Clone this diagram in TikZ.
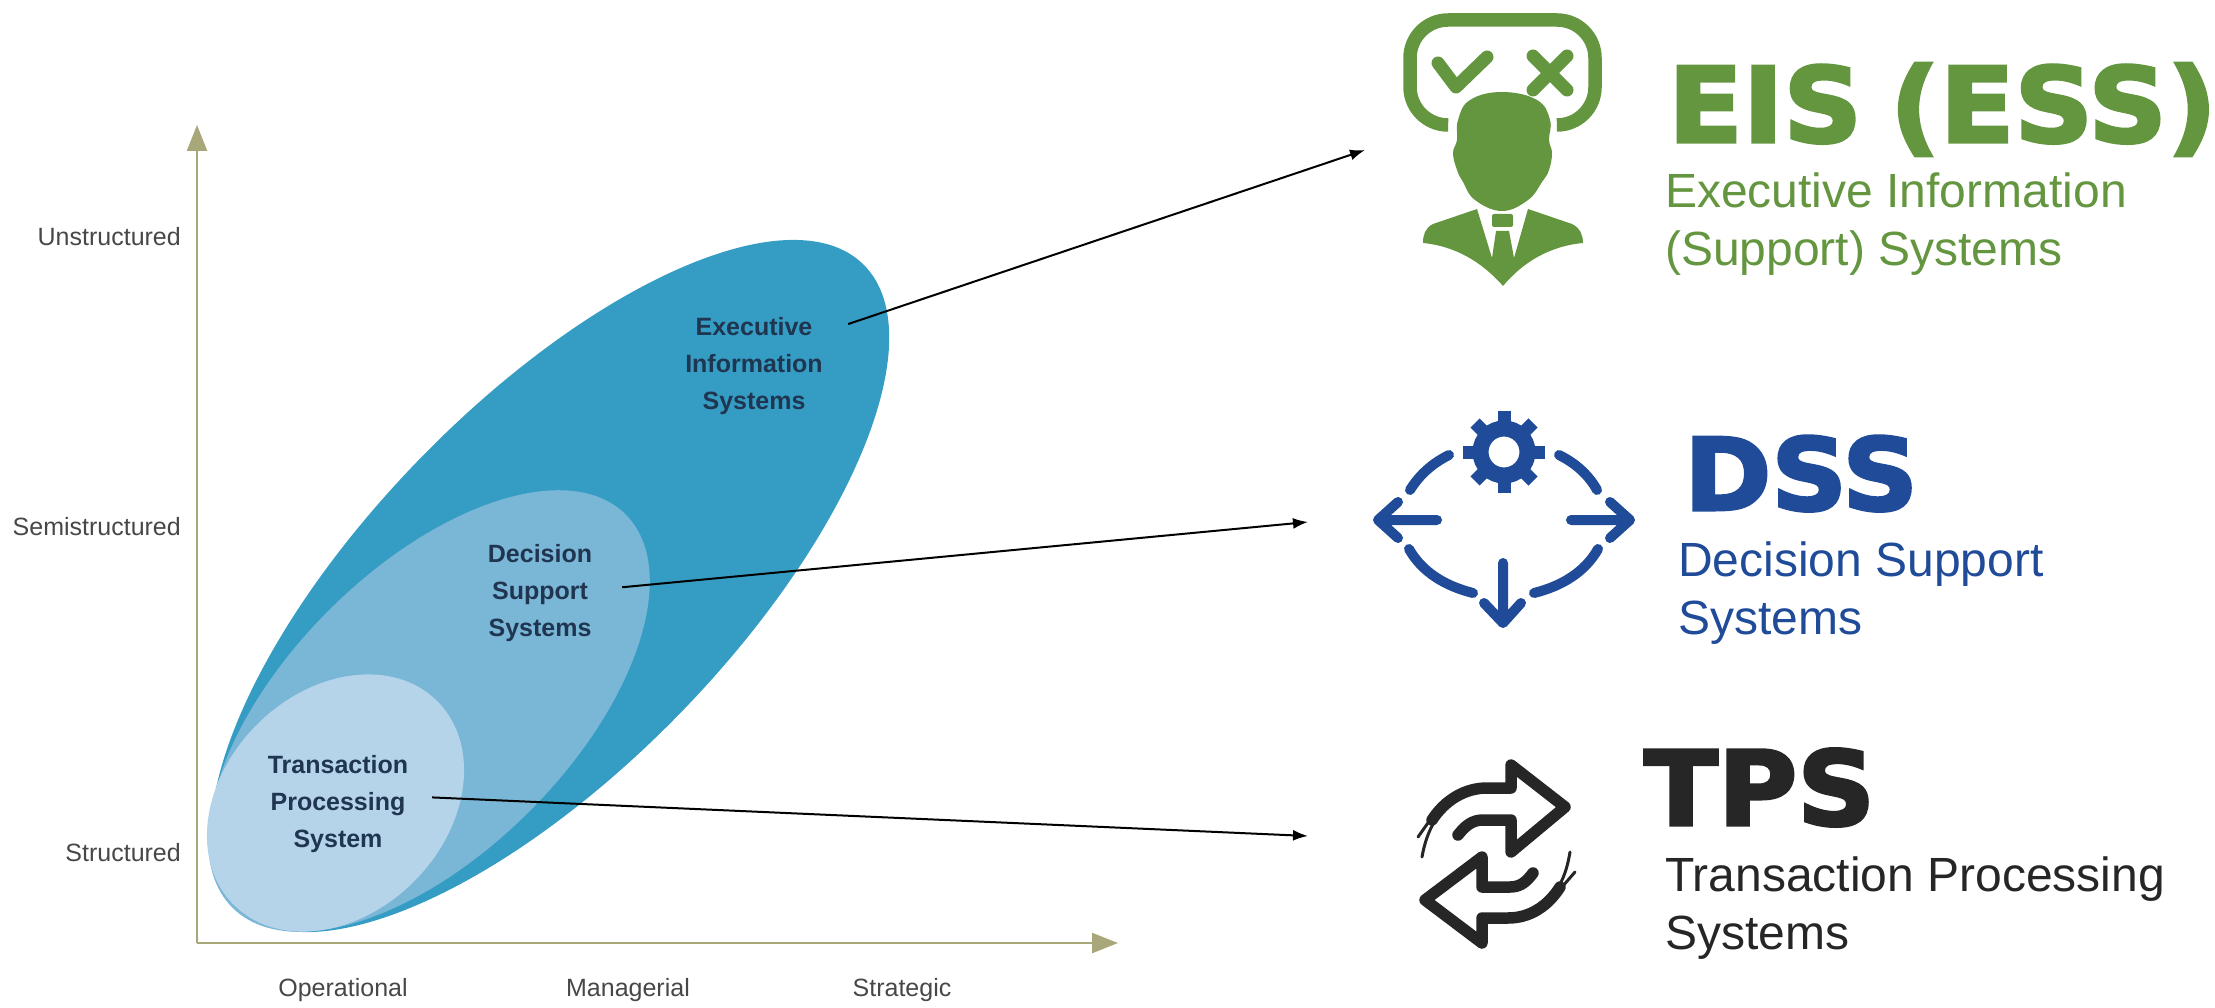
\documentclass[tikz,border=0pt]{standalone}
\usepackage{fontspec}
\usepackage{xcolor}
\setmainfont{Liberation Sans}
\newfontfamily\titlefont[UprightFont=* Bold,FakeBold=3,FakeStretch=1.05]{DejaVu Sans}
\usetikzlibrary{arrows.meta}

\definecolor{axisolive}{HTML}{A8A77A}
\definecolor{eisblue}{HTML}{359DC4}
\definecolor{dssblue}{HTML}{7AB6D6}
\definecolor{tpsblue}{HTML}{B5D4EA}
\definecolor{labelnavy}{HTML}{1F3550}
\definecolor{eisgreen}{HTML}{64963F}
\definecolor{dssnavy}{HTML}{1F4B99}
\definecolor{tpsdark}{HTML}{262626}

\tikzset{
    axisline/.style={line width=2.5pt,axisolive,-{Triangle[length=26pt,width=20pt]}},
    axislabel/.style={font=\fontsize{25}{30}\selectfont,text=black!72,inner sep=0pt},
    bloblabel/.style={font=\fontsize{25}{36.8}\selectfont\bfseries,text=labelnavy,align=center,inner sep=0pt},
    linkarrow/.style={line width=2pt,black,-{Latex[length=15pt,width=11pt]}},
    bigtitle/.style={anchor=base west,inner sep=0pt},
    subtitle/.style={anchor=north west,inner sep=0pt,align=left,font=\fontsize{48}{57.5}\selectfont},
    iconpen/.style={line cap=round,line join=round},
}

\begin{document}
\begin{tikzpicture}[x=1pt,y=-1pt]
\useasboundingbox (0,0) rectangle (2215,1008);

% Axes
\coordinate (origin) at (197,943);
\coordinate (ytip) at (197,125);
\coordinate (xtip) at (1118,943);
\draw[axisline] (origin) -- (ytip);
\draw[axisline] (origin) -- (xtip);

% Axis labels
\foreach \y/\ytext/\yname in {237/Unstructured/un, 527/Semistructured/semi, 853/Structured/st}
    \node[axislabel,anchor=east] (\yname) at (181,\y) {\ytext};
\foreach \x/\xtext/\xname in {343/Operational/op, 628/Managerial/man, 902/Strategic/str}
    \node[axislabel] (\xname) at (\x,990) {\xtext};

% Nested blobs
\fill[eisblue] (550,586) ellipse [x radius=449,y radius=182,rotate=45.8];
\fill[dssblue] (429,711) ellipse [x radius=278,y radius=142,rotate=45];
\fill[tpsblue] (335.5,803) ellipse [x radius=144,y radius=111,rotate=45];

% Blob labels
\node[bloblabel,minimum width=188pt] (eislabel) at (754,366) {Executive\\Information\\Systems};
\node[bloblabel,minimum width=164pt] (dsslabel) at (540,593) {Decision\\Support\\Systems};
\node[bloblabel,minimum width=188pt] (tpslabel) at (338,804) {Transaction\\Processing\\System};

% Links to the icons
\coordinate (eisicon) at (1365,150);
\coordinate (dssicon) at (1308,522);
\coordinate (tpsicon) at (1308,836);
\draw[linkarrow] (eislabel.24.6) -- (eisicon);
\draw[linkarrow] (dsslabel.4.2) -- (dssicon);
\draw[linkarrow] (tpslabel.4.9) -- (tpsicon);

% EIS icon
\draw[eisgreen,line width=13.5pt,rounded corners=38pt] (1447,125) -- (1410,125) -- (1410,20) -- (1595,20) -- (1595,125) -- (1559,125);
\draw[eisgreen,iconpen,line width=13pt] (1438,63) -- (1456,87) -- (1487,57);
\draw[eisgreen,iconpen,line width=13pt] (1533,56) -- (1567,90) (1567,56) -- (1533,90);
\fill[eisgreen] plot[smooth cycle,tension=0.7] coordinates {
    (1502,92) (1470,100) (1458,120) (1457,140) (1453,153) (1457,170) (1463,182) (1475,200)
    (1502,211) (1528,200) (1542,182) (1549,170) (1552,153) (1549,140) (1550,120) (1537,100)
};
\fill[eisgreen] (1477,209) -- (1433,224) .. controls (1425,228) and (1423,235) .. (1423,243)
    .. controls (1455,246) and (1482,262) .. (1503,286)
    .. controls (1523,262) and (1550,246) .. (1583,243)
    .. controls (1583,235) and (1580,228) .. (1572,224) -- (1528,209)
    -- (1514,258) -- (1509,231) -- (1496,231) -- (1492,258) -- cycle;
\fill[eisgreen,rounded corners=2pt] (1492,214) rectangle (1513,227);

% DSS icon
\draw[dssnavy,line width=16pt] (1504,452) circle (23.5);
\foreach \a in {0,45,...,315}
    \draw[dssnavy,line width=13pt] (1504,452) ++(\a:28) -- ++(\a:13);
\draw[dssnavy,iconpen,line width=10pt] (1410,490) .. controls (1420,474) and (1433,463) .. (1449,455);
\draw[dssnavy,iconpen,line width=10pt] (1559,455) .. controls (1575,463) and (1588,474) .. (1597,490);
\draw[dssnavy,iconpen,line width=10pt] (1409,549) .. controls (1422,572) and (1445,586) .. (1473,593);
\draw[dssnavy,iconpen,line width=10pt] (1598,549) .. controls (1585,572) and (1562,586) .. (1534,593);
\draw[dssnavy,iconpen,line width=10pt] (1437,520) -- (1378,520) (1398,502) -- (1378,520) -- (1398,538);
\draw[dssnavy,iconpen,line width=10pt] (1571,520) -- (1630,520) (1610,502) -- (1630,520) -- (1610,538);
\draw[dssnavy,iconpen,line width=10pt] (1503,563) -- (1503,623) (1484,603) -- (1503,623) -- (1521,603);

% TPS icon
\draw[tpsdark,iconpen,line width=11.5pt] (1432,820) .. controls (1445,800) and (1465,788) .. (1487,788)
    -- (1511,788) -- (1511,765) -- (1565,807) -- (1511,852) -- (1511,820) -- (1483,820)
    .. controls (1472,820) and (1465,826) .. (1458,835);
\draw[tpsdark,iconpen,line width=11.5pt] (1560,887) .. controls (1548,906) and (1530,918) .. (1508,918)
    -- (1482,918) -- (1482,943) -- (1425,900) -- (1482,857) -- (1482,887) -- (1510,887)
    .. controls (1521,887) and (1527,881) .. (1533,873);
\draw[tpsdark,iconpen,line width=3pt] (1418,837) -- (1430,820) (1422,857) .. controls (1424,845) and (1428,833) .. (1433,824);
\draw[tpsdark,iconpen,line width=3pt] (1575,872) -- (1562,887) (1570,852) .. controls (1568,864) and (1565,875) .. (1560,884);

% Titles
\node[bigtitle,text=eisgreen,font=\fontsize{104}{110}\titlefont] (eistitle) at (1668,142) {EIS\hspace{-10pt} (ESS)};
\node[subtitle,text=eisgreen] (eistext) at (1665,173) {Executive Information\\(Support) Systems};
\node[bigtitle,text=dssnavy,font=\fontsize{100}{110}\titlefont] (dsstitle) at (1684,510) {DSS};
\node[subtitle,text=dssnavy] (dsstext) at (1678,542) {Decision Support\\Systems};
\node[bigtitle,text=tpsdark,font=\fontsize{103}{110}\titlefont] (tpstitle) at (1644,825) {TPS};
\node[subtitle,text=tpsdark] (tpstext) at (1665,857) {Transaction Processing\\Systems};

\end{tikzpicture}
\end{document}
